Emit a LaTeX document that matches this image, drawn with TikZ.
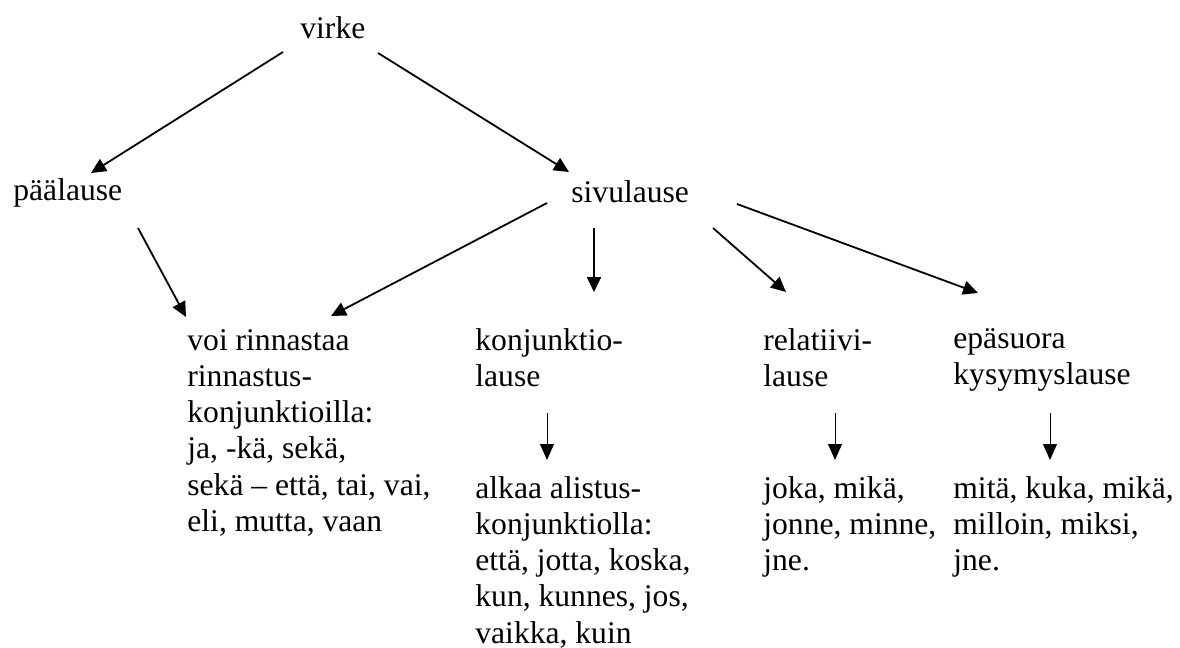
\documentclass[tikz,border=0pt]{standalone}
\usepackage{fontspec}
\setmainfont{Liberation Serif}
\usetikzlibrary{arrows.meta}

\tikzset{
  word/.style={anchor=north west, inner sep=0pt, align=left,
    font=\fontsize{15.8pt}{18.1pt}\selectfont},
  link/.style={line width=0.9pt, -{Triangle[length=7.5pt,width=7pt]}},
  sublink/.style={line width=0.5pt, -{Triangle[length=8pt,width=7pt]}}
}

\begin{document}
\begin{tikzpicture}[x=0.5pt, y=-0.5pt]
    \useasboundingbox (0,0) rectangle (1180,648);

    % Top levels
    \node[word] (virke) at (300,16) {virke};
    \node[word] (paalause) at (13,178) {päälause};
    \node[word] (sivulause) at (571,180) {sivulause};

    % Clause types
    \node[word] (rinnastus) at (187,329) {voi rinnastaa\\rinnastus-\\konjunktioilla:\\ja, -kä, sekä,\\sekä – että, tai, vai,\\eli, mutta, vaan};
    \node[word] (konjunktio) at (475,328) {konjunktio-\\lause};
    \node[word] (relatiivi) at (763,328) {relatiivi-\\lause};
    \node[word] (epasuora) at (953,328) {epäsuora\\kysymyslause};

    % Examples
    \node[word] (alistus) at (475,476) {alkaa alistus-\\konjunktiolla:\\että, jotta, koska,\\kun, kunnes, jos,\\vaikka, kuin};
    \node[word] (relsanat) at (763,476) {joka, mikä,\\jonne, minne,\\jne.};
    \node[word] (kyssanat) at (953,476) {mitä, kuka, mikä,\\milloin, miksi,\\jne.};

    % Arrows
    \draw[link] ([shift={(-17,36)}]virke.north west) -- ([shift={(78,-5)}]paalause.north west);
    \draw[link] ([shift={(78,37)}]virke.north west) -- ([shift={(-2,-8)}]sivulause.north west);
    \draw[link] ([shift={(125,50)}]paalause.north west) -- ([shift={(-1,-12)}]rinnastus.north west);
    \draw[link] ([shift={(-24,23)}]sivulause.north west) -- ([shift={(144,-13)}]rinnastus.north west);
    \draw[link] ([shift={(23,48)}]sivulause.north west) -- ([shift={(119,-36)}]konjunktio.north west);
    \draw[link] ([shift={(142,48)}]sivulause.north west) -- ([shift={(23,-36)}]relatiivi.north west);
    \draw[link] ([shift={(166,24)}]sivulause.north west) -- ([shift={(25,-35)}]epasuora.north west);

    \draw[sublink] ([shift={(72,85)}]konjunktio.north west) -- ([shift={(72,-16)}]alistus.north west);
    \draw[sublink] ([shift={(72,85)}]relatiivi.north west) -- ([shift={(72,-16)}]relsanat.north west);
    \draw[sublink] ([shift={(97,85)}]epasuora.north west) -- ([shift={(97,-16)}]kyssanat.north west);
\end{tikzpicture}
\end{document}
